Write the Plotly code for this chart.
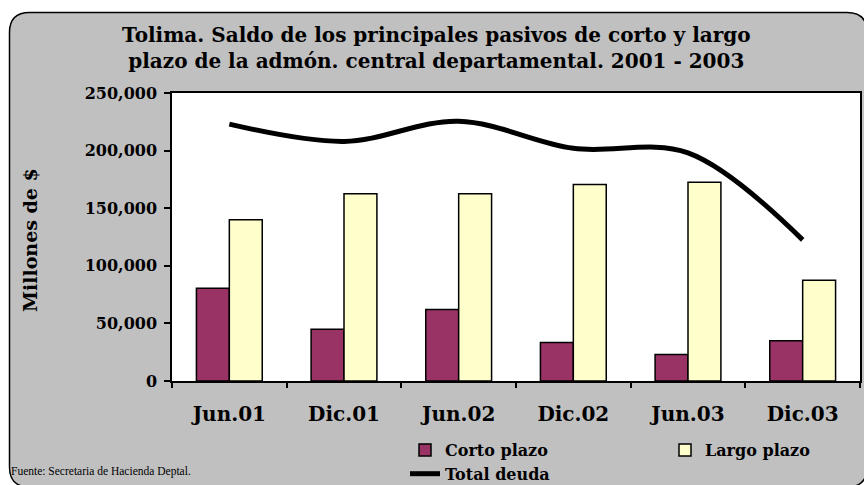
import plotly.graph_objects as go

categories = ["Jun.01", "Dic.01", "Jun.02", "Dic.02", "Jun.03", "Dic.03"]
corto_plazo = [80500, 45000, 62000, 33500, 23000, 35000]
largo_plazo = [140000, 162500, 162500, 170500, 172500, 87500]
total_deuda = [223000, 208000, 225500, 202000, 198000, 122500]
y_ticks = [0, 50000, 100000, 150000, 200000, 250000]

W, H = 864, 485
ML, MR, MT, MB = 172, 4, 93, 104
PW, PH = W - ML - MR, H - MT - MB

def px(x):
    return (x - ML) / PW

def py(y):
    return (H - MB - y) / PH

SERIF = "DejaVu Serif"

fig = go.Figure()
fig.add_trace(go.Bar(
    x=categories, y=corto_plazo, name="Corto plazo",
    marker=dict(color="#993366", line=dict(color="black", width=1.5)),
))
fig.add_trace(go.Bar(
    x=categories, y=largo_plazo, name="Largo plazo",
    marker=dict(color="#FFFFCC", line=dict(color="black", width=1.5)),
))
fig.add_trace(go.Scatter(
    x=categories, y=total_deuda, name="Total deuda", mode="lines",
    line=dict(color="black", width=5, shape="spline", smoothing=1.0),
))

# rounded grey chart frame
x0, x1, y0, y1, r = 9.5, 867, 12.5, 487, 20
rx, ry = r / PW, r / PH
X0, X1, Y0, Y1 = px(x0), px(x1), py(y0), py(y1)
path = (f"M{X0+rx},{Y0} L{X1-rx},{Y0} Q{X1},{Y0} {X1},{Y0-ry} "
        f"L{X1},{Y1+ry} Q{X1},{Y1} {X1-rx},{Y1} "
        f"L{X0+rx},{Y1} Q{X0},{Y1} {X0},{Y1+ry} "
        f"L{X0},{Y0-ry} Q{X0},{Y0} {X0+rx},{Y0} Z")
shapes = [
    dict(type="path", xref="paper", yref="paper", path=path,
         fillcolor="#C0C0C0", line=dict(color="black", width=1.5), layer="below"),
    dict(type="rect", xref="paper", yref="paper", x0=0, x1=1, y0=0, y1=1,
         fillcolor="white", line=dict(width=0), layer="below"),
]

fig.update_layout(
    width=W, height=H,
    margin=dict(l=ML, r=MR, t=MT, b=MB, autoexpand=False),
    paper_bgcolor="white", plot_bgcolor="rgba(0,0,0,0)",
    shapes=shapes,
    barmode="group", bargap=0.426, bargroupgap=0,
    title=dict(
        text="Tolima. Saldo de los principales pasivos de corto y largo<br>plazo de la admón. central departamental. 2001 - 2003",
        x=0.505, xanchor="center", xref="container",
        y=1 - 42 / H, yanchor="middle", yref="container",
        font=dict(family=SERIF, size=20, color="black", weight="bold"),
    ),
    showlegend=True,
    legend=dict(
        orientation="h", x=px(405), xanchor="left", y=py(433), yanchor="top",
        font=dict(family=SERIF, size=16, color="black", weight="bold"),
        bgcolor="rgba(0,0,0,0)", entrywidth=215, entrywidthmode="pixels",
        traceorder="normal",
    ),
    xaxis=dict(
        type="category", showline=True, linecolor="black", linewidth=1.5, mirror=True,
        ticks="outside", ticklen=5, tickwidth=1.5, tickcolor="black", tickson="boundaries",
        showgrid=False, ticklabelstandoff=14,
        tickfont=dict(family=SERIF, size=20, color="black", weight="bold"),
    ),
    yaxis=dict(
        range=[0, 250000], tickvals=y_ticks, tickformat=",d",
        showline=True, linecolor="black", linewidth=1.5, mirror=True,
        ticks="outside", ticklen=6, tickwidth=1.5, tickcolor="black",
        showgrid=False, zeroline=False, ticklabelstandoff=4,
        tickfont=dict(family=SERIF, size=16, color="black", weight="bold"),
    ),
    annotations=[
        dict(text="Millones de $", textangle=-90, xref="paper", yref="paper",
             x=px(30), y=py(240), xanchor="center", yanchor="middle", showarrow=False,
             font=dict(family=SERIF, size=19, color="black", weight="bold")),
        dict(text="Fuente: Secretaria de Hacienda Deptal.", xref="paper", yref="paper",
             x=px(9), y=py(471), xanchor="left", yanchor="middle", showarrow=False,
             font=dict(family="Liberation Serif", size=11.5, color="black")),
    ],
)

fig.write_html("out.html", config={"displayModeBar": False},
               post_script="document.body.style.margin='0';")
